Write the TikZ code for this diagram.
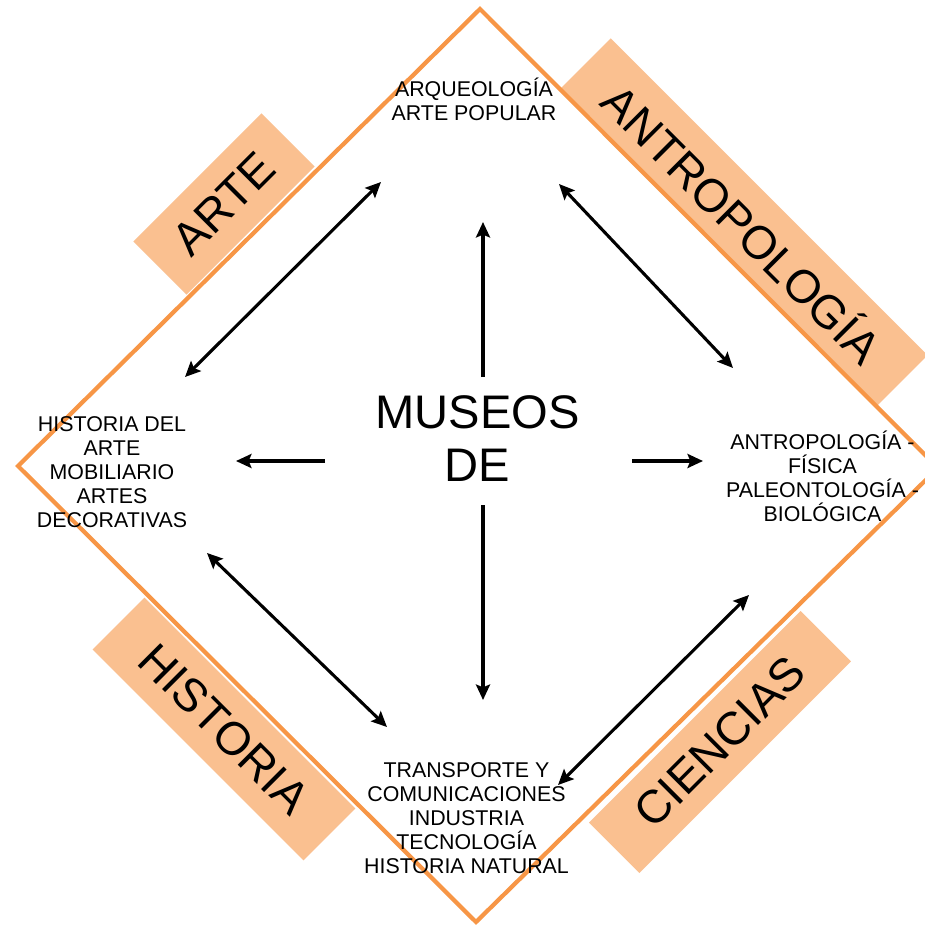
\documentclass[tikz,border=0pt]{standalone}
\usepackage{fontspec}
\setmainfont{Liberation Sans}
\usetikzlibrary{arrows.meta}
\definecolor{naranja}{HTML}{F79646}
\definecolor{salmon}{HTML}{FAC090}
\tikzset{
  rombo/.style={draw=naranja, line width=3pt},
  banda/.style={fill=salmon, inner sep=0pt, font=\fontsize{33}{38}\selectfont},
  lista/.style={align=center, inner sep=0pt, font=\fontsize{15.2}{17.1}\selectfont},
  titulo/.style={align=center, inner sep=0pt, font=\fontsize{33.5}{37.7}\selectfont},
  punta/.tip={Stealth[length=11pt, width=10pt, inset=2pt]},
  flecha/.style={-punta, line width=2.2pt},
  doble/.style={punta-punta, line width=2.2pt}
}
\begin{document}
\begin{tikzpicture}[x=0.025cm, y=-0.025cm]
    \useasboundingbox (0,0) rectangle (925,928);
    \fill[white] (0,0) rectangle (925,928);

    % bandas de las cuatro disciplinas
    \node[banda, rotate=45, minimum width=4.53cm, minimum height=1.88cm] (arte) at (224,204) {ARTE};
    \node[banda, rotate=-45, minimum width=11.2cm, minimum height=1.78cm] (antrop) at (744,222) {ANTROPOLOGÍA};
    \node[banda, rotate=-45, minimum width=7.45cm, minimum height=1.83cm] (historia) at (224,729) {HISTORIA};
    \node[banda, rotate=45, minimum width=7.48cm, minimum height=1.78cm] (ciencias) at (720,742) {CIENCIAS};

    \draw[rombo] (480,9) -- (938,468) -- (476,922) -- (18,466) -- cycle;

    % textos
    \node[titulo] (museos) at (477.5,439) {MUSEOS\\DE};
    \node[lista] (arq) at (474,99) {ARQUEOLOGÍA\\ARTE POPULAR};
    \node[lista] (hist) at (112,472) {HISTORIA DEL\\ARTE\\MOBILIARIO\\ARTES\\DECORATIVAS};
    \node[lista] (fis) at (822.5,476) {ANTROPOLOGÍA -\\FÍSICA\\PALEONTOLOGÍA -\\BIOLÓGICA};
    \node[lista] (tec) at (466.5,818) {TRANSPORTE Y\\COMUNICACIONES\\INDUSTRIA\\TECNOLOGÍA\\HISTORIA NATURAL};

    % extremos de las flechas
    \coordinate (m-n) at (483,377);
    \coordinate (m-s) at (483,505);
    \coordinate (m-o) at (325,461);
    \coordinate (m-e) at (632,461);
    \coordinate (arq-n) at (483,222);
    \coordinate (tec-n) at (483,700);
    \coordinate (hist-e) at (236,461);
    \coordinate (fis-o) at (703,461);
    \coordinate (arq-o) at (381,182);
    \coordinate (arq-e) at (559,184);
    \coordinate (hist-ne) at (185,377);
    \coordinate (hist-se) at (207,553);
    \coordinate (fis-no) at (733,368);
    \coordinate (fis-so) at (749,595);
    \coordinate (tec-no) at (387,727);
    \coordinate (tec-ne) at (558,785);

    \draw[flecha] (m-n) -- (arq-n);
    \draw[flecha] (m-s) -- (tec-n);
    \draw[flecha] (m-o) -- (hist-e);
    \draw[flecha] (m-e) -- (fis-o);

    \draw[doble] (hist-ne) -- (arq-o);
    \draw[doble] (arq-e) -- (fis-no);
    \draw[doble] (hist-se) -- (tec-no);
    \draw[doble] (tec-ne) -- (fis-so);
\end{tikzpicture}
\end{document}
